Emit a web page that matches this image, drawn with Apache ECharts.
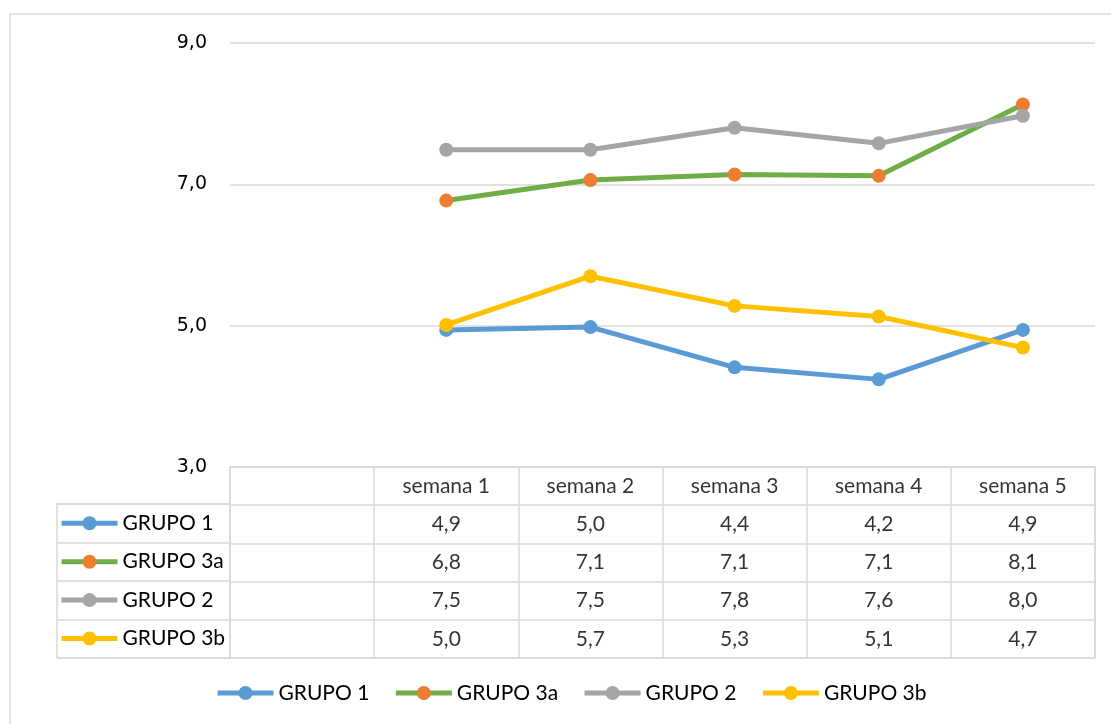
<!DOCTYPE html>
<html><head><meta charset="utf-8">
<script src="https://cdn.jsdelivr.net/npm/echarts@6/dist/echarts.min.js"></script>
<style>html,body{margin:0;padding:0;background:#fff}#c{width:1111px;height:724px}</style>
</head><body><div id="c"></div>
<script>
// ---- data ----
const categories = ['', 'semana 1', 'semana 2', 'semana 3', 'semana 4', 'semana 5'];
const seriesNames = ['GRUPO 1', 'GRUPO 3a', 'GRUPO 2', 'GRUPO 3b'];
const grupo1  = ['-', 4.94, 4.98, 4.41, 4.24, 4.94];
const grupo3a = ['-', 6.77, 7.06, 7.14, 7.12, 8.13];
const grupo2  = ['-', 7.49, 7.49, 7.80, 7.58, 7.97];
const grupo3b = ['-', 5.01, 5.70, 5.28, 5.13, 4.69];
const yMin = 3, yMax = 9, yStep = 2;

// ---- styles ----
const seriesValues = [grupo1, grupo3a, grupo2, grupo3b];
const lineColors = ['#5B9BD5', '#70AD47', '#A5A5A5', '#FFC000'];
const markerColors = ['#5B9BD5', '#ED7D31', '#A5A5A5', '#FFC000'];
const gridColor = '#D9D9D9';
const tableFont = 'Lato';
const fmt = v => Number(v).toFixed(1).replace('.', ',');

// table cells built from the data arrays
const cellData = [];
categories.forEach((c, i) => { if (c) cellData.push([i, 0, c]); });
seriesValues.forEach((vals, r) => {
  vals.forEach((v, i) => { if (v !== '-') cellData.push([i, r + 1, fmt(v)]); });
});

const lineSeries = seriesNames.map((name, i) => ({
  name, type: 'line', xAxisIndex: 0, yAxisIndex: 0,
  data: seriesValues[i],
  symbol: 'circle', symbolSize: 14, showSymbol: true,
  lineStyle: { width: 5, color: lineColors[i] },
  itemStyle: { color: markerColors[i] },
  silent: true
}));

const legendCommon = {
  data: seriesNames, selectedMode: false, padding: 0,
  itemWidth: 56, itemHeight: 17.5,
  lineStyle: { width: 5 },
  textStyle: { fontFamily: tableFont, fontSize: 21, color: '#000', lineHeight: 24 }
};

const chart = echarts.init(document.getElementById('c'), null, { renderer: 'canvas' });
chart.setOption({
  animation: false,
  backgroundColor: '#fff',
  graphic: [{
    type: 'rect', shape: { x: 10, y: 14, width: 1110, height: 720 },
    style: { fill: 'none', stroke: gridColor, lineWidth: 1.5 }, silent: true
  }],
  legend: [
    Object.assign({}, legendCommon, { orient: 'horizontal', left: 215, top: 681, itemGap: 24 }),
    Object.assign({}, legendCommon, { orient: 'vertical', left: 59, top: 511.3, itemGap: 14.4 })
  ],
  grid: [
    { left: 230, right: 16, top: 43, height: 424 },
    { left: 230, right: 16, top: 467, height: 191, show: true, borderColor: gridColor, borderWidth: 1.5 },
    { left: 57, width: 173, top: 504, height: 154, show: true, borderColor: gridColor, borderWidth: 1.5 }
  ],
  xAxis: [
    { type: 'category', gridIndex: 0, data: categories, boundaryGap: true,
      axisLine: { show: false }, axisTick: { show: false }, axisLabel: { show: false }, splitLine: { show: false } },
    { type: 'category', gridIndex: 1, data: categories, boundaryGap: true,
      axisLine: { show: false }, axisTick: { show: false, interval: 0 }, axisLabel: { show: false, interval: 0 },
      splitLine: { show: true, interval: 0, lineStyle: { color: gridColor, width: 1.5 } } },
    { type: 'category', gridIndex: 2, data: [''],
      axisLine: { show: false }, axisTick: { show: false }, axisLabel: { show: false } }
  ],
  yAxis: [
    { type: 'value', gridIndex: 0, min: yMin, max: yMax, interval: yStep,
      axisLine: { show: false }, axisTick: { show: false },
      axisLabel: { formatter: v => fmt(v), margin: 23, fontFamily: 'DejaVu Sans', fontSize: 19, color: '#000' },
      splitLine: { show: true, lineStyle: { color: gridColor, width: 1.5 } } },
    { type: 'category', gridIndex: 1, data: ['header'].concat(seriesNames), inverse: true,
      axisLine: { show: false }, axisTick: { show: false, interval: 0 }, axisLabel: { show: false, interval: 0 },
      splitLine: { show: true, interval: 0, lineStyle: { color: gridColor, width: 1.5 } } },
    { type: 'category', gridIndex: 2, data: seriesNames, inverse: true,
      axisLine: { show: false }, axisTick: { show: false, interval: 0 }, axisLabel: { show: false, interval: 0 },
      splitLine: { show: true, interval: 0, lineStyle: { color: gridColor, width: 1.5 } } }
  ],
  series: lineSeries.concat([{
    name: 'table', type: 'scatter', xAxisIndex: 1, yAxisIndex: 1,
    data: cellData, symbolSize: 0, silent: true,
    label: { show: true, position: 'inside', formatter: p => p.value[2],
      fontFamily: tableFont, fontSize: 21, color: '#000' }
  }])
});
</script></body></html>
